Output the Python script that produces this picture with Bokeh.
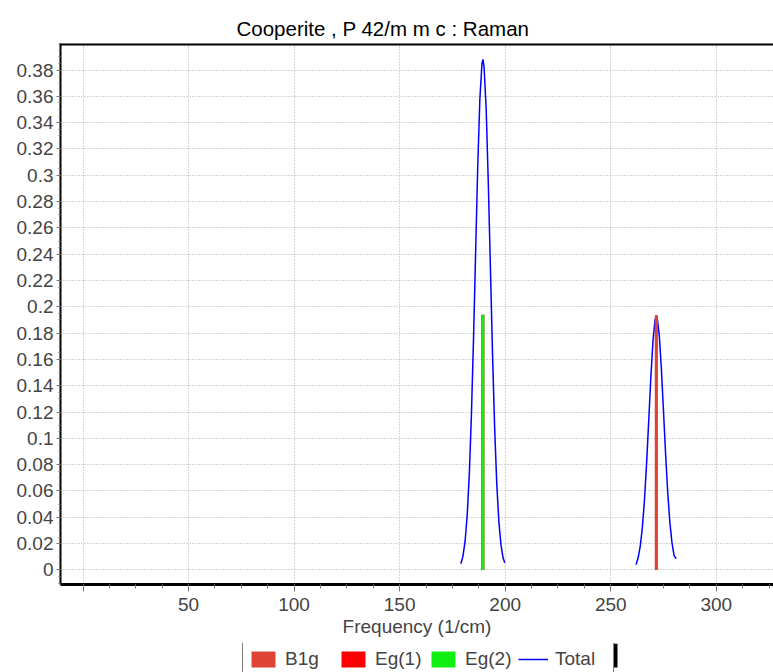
from bokeh.plotting import figure
from bokeh.layouts import column
from bokeh.models import Range1d, FixedTicker, Legend, LegendItem, Span, BoxAnnotation
from bokeh.embed import file_html
from bokeh.resources import INLINE

title_text = "Cooperite , P 42/m m c : Raman"
x_label = "Frequency (1/cm)"

# Raman modes (frequency in 1/cm, intensity)
mode_names = ["B1g", "Eg(1)", "Eg(2)"]
mode_freq = [271.6, 189.4, 189.4]
mode_intensity = [0.1935, 0.1940, 0.1940]
mode_colors = ["#DD4433", "#FF0000", "#11EE11"]
total_name = "Total"
total_color = "#0000FF"

# Total (broadened) spectrum: two separate pieces
total_x1 = [179.0, 180.0, 181.0, 182.0, 183.0, 184.0, 185.0, 186.0, 187.0, 188.0,
            189.0, 189.5, 190.0, 191.0, 192.0, 193.0, 194.0, 195.0, 196.0, 197.0,
            198.0, 199.0, 199.8]
total_y1 = [0.0047, 0.0105, 0.0218, 0.0415, 0.0729, 0.118, 0.176, 0.242, 0.307, 0.358,
            0.385, 0.388, 0.382, 0.350, 0.294, 0.229, 0.164, 0.108, 0.0656, 0.0367,
            0.0190, 0.0090, 0.0055]
total_x2 = [262.0, 263.0, 264.0, 265.0, 266.0, 267.0, 268.0, 269.0, 270.0, 271.0,
            271.6, 272.0, 273.0, 274.0, 275.0, 276.0, 277.0, 278.0, 279.0, 280.0, 281.0]
total_y2 = [0.0040, 0.0094, 0.0183, 0.0326, 0.0537, 0.0814, 0.1137, 0.1465, 0.1739, 0.1901,
            0.1935, 0.1917, 0.1781, 0.1525, 0.1204, 0.0876, 0.0587, 0.0363, 0.0207, 0.0108, 0.0085]

x_ticks = [0, 50, 100, 150, 200, 250, 300]
x_tick_labels = ["", "50", "100", "150", "200", "250", "300"]
y_ticks = [0, 0.02, 0.04, 0.06, 0.08, 0.1, 0.12, 0.14, 0.16, 0.18, 0.2,
           0.22, 0.24, 0.26, 0.28, 0.3, 0.32, 0.34, 0.36, 0.38]
y_tick_labels = ["0", "0.02", "0.04", "0.06", "0.08", "0.1", "0.12", "0.14", "0.16", "0.18", "0.2",
                 "0.22", "0.24", "0.26", "0.28", "0.3", "0.32", "0.34", "0.36", "0.38"]

FONT = "Liberation Sans"

p = figure(width=773, height=643, output_backend="svg", toolbar_location=None,
           x_range=Range1d(-10.66, 327.1), y_range=Range1d(-0.0111, 0.4002),
           min_border_left=60, min_border_right=0, min_border_top=43, min_border_bottom=59)

p.title.text = title_text
p.title.align = "left"
p.title.offset = 176
p.title.text_font = FONT
p.title.text_font_size = "20.5px"
p.title.text_font_style = "normal"
p.title.text_color = "black"
p.title.standoff = 8

p.outline_line_color = None
p.background_fill_color = "white"
p.border_fill_color = "white"

# grid
for g in (p.xgrid, p.ygrid):
    g.grid_line_color = "#aaaaaa"
    g.grid_line_dash = "1 2"
    g.grid_line_width = 1
p.xgrid.ticker = FixedTicker(ticks=x_ticks)
p.ygrid.ticker = FixedTicker(ticks=y_ticks)

# x axis
xa = p.xaxis[0]
xa.ticker = FixedTicker(ticks=x_ticks, minor_ticks=[-12.5 + 12.5 * i for i in range(29)])
xa.major_label_overrides = dict(zip(x_ticks, x_tick_labels))
xa.axis_label = x_label
xa.axis_label_text_font = FONT
xa.axis_label_text_font_size = "19px"
xa.axis_label_text_font_style = "normal"
xa.axis_label_standoff = 2
xa.major_label_text_font = FONT
xa.major_label_text_font_size = "19px"
xa.major_label_standoff = 6
xa.axis_line_width = 3
xa.axis_line_color = "black"
xa.major_tick_in = 0
xa.major_tick_out = 7
xa.minor_tick_in = 0
xa.minor_tick_out = 4
xa.major_tick_line_color = "#777777"
xa.minor_tick_line_color = "#777777"

# y axis
ya = p.yaxis[0]
ya.ticker = FixedTicker(ticks=y_ticks, minor_ticks=[-0.01 + 0.005 * i for i in range(83)])
ya.major_label_overrides = dict(zip(y_ticks, y_tick_labels))
ya.major_label_text_font = FONT
ya.major_label_text_font_size = "19px"
ya.major_label_standoff = 3
ya.axis_line_width = 2
ya.axis_line_color = "black"
ya.major_tick_in = 0
ya.major_tick_out = 4
ya.minor_tick_in = 0
ya.minor_tick_out = 2
ya.major_tick_line_color = "#777777"
ya.minor_tick_line_color = "#777777"

# top border
p.add_layout(Span(location=0.4002, dimension="width", line_color="black", line_width=4))

# total spectrum
p.multi_line(xs=[total_x1, total_x2], ys=[total_y1, total_y2],
             line_color=total_color, line_width=1.5)

# mode bars
for f, h, c in zip(mode_freq, mode_intensity, mode_colors):
    p.vbar(x=[f], top=[h], bottom=0, width=1.5, fill_color=c, line_color=None)

# legend strip below the chart (its frame is aligned with the chart frame)
lg = figure(width=773, height=29, output_backend="svg", toolbar_location=None,
            x_axis_type=None, y_axis_type=None, x_range=Range1d(0, 1), y_range=Range1d(0, 1),
            min_border_left=0, min_border_right=0, min_border_top=0, min_border_bottom=0)
lg.outline_line_color = None
lg.xgrid.visible = False
lg.ygrid.visible = False
lg.border_fill_color = "white"
lg.background_fill_color = "white"

items = []
for n, c in zip(mode_names, mode_colors):
    # off-range sample so the legend swatch has something to draw from
    r = lg.vbar(x=[-10], top=[-10], bottom=-11, width=0.1, fill_color=c, line_color=None)
    items.append(LegendItem(label=n, renderers=[r]))
rl = lg.line(x=[-10, -9], y=[-10, -10], line_color=total_color, line_width=1.5)
items.append(LegendItem(label=total_name, renderers=[rl]))

legend = Legend(items=items, orientation="horizontal", location=(182, -4),
                glyph_width=30, glyph_height=20, label_standoff=7, spacing=0,
                padding=5, margin=0, label_text_font=FONT, label_text_font_size="19px",
                label_width=53, label_height=20, border_line_color="black", border_line_width=1,
                background_fill_color="white", background_fill_alpha=1.0)
lg.add_layout(legend, "center")

# legend drop shadow on its right side
lg.add_layout(BoxAnnotation(left=553, right=557, top=5, bottom=29,
                            left_units="screen", right_units="screen",
                            top_units="screen", bottom_units="screen",
                            fill_color="black", fill_alpha=1.0, line_color=None))

layout = column(p, lg, spacing=0)
open("out.html", "w").write(file_html(layout, INLINE))
